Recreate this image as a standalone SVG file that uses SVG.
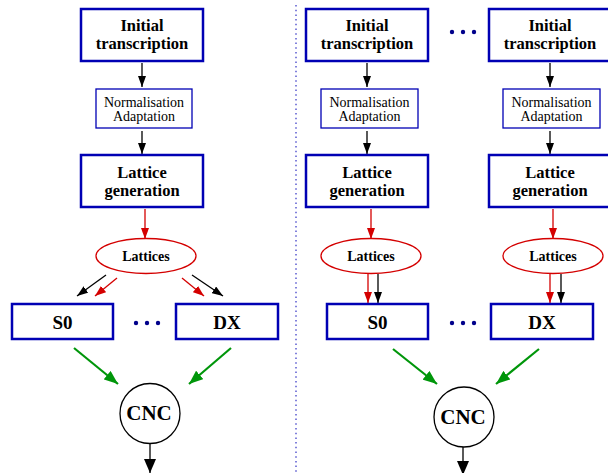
<svg xmlns="http://www.w3.org/2000/svg" width="608" height="473" viewBox="0 0 608 473">
<defs>
<style>
text{font-family:'Liberation Serif','Times New Roman','DejaVu Serif',serif;text-anchor:middle;fill:#000}
.box{fill:#fff;stroke:#0000b4;stroke-width:2.5}
.tbox{fill:#fff;stroke:#0000b4;stroke-width:1.3}
.ell{fill:#fff;stroke:#d40000;stroke-width:1.3}
.circ{fill:#fff;stroke:#000;stroke-width:1.3}
.bt{font-weight:bold;font-size:16.5px}
.nt{font-size:14px}
.lt{font-weight:bold;font-size:14px}
.st{font-weight:bold;font-size:19px}
.ct{font-weight:bold;font-size:21px}
.k{stroke:#000;stroke-width:1.3;fill:none;marker-end:url(#ak)}
.r{stroke:#d40000;stroke-width:1.3;fill:none;marker-end:url(#ar)}
.g{stroke:#00960a;stroke-width:2.2;fill:none;marker-end:url(#ag)}
.kb{stroke:#000;stroke-width:1.3;fill:none;marker-end:url(#akb)}
.dot{fill:#00008b}
</style>
<marker id="ak" markerUnits="userSpaceOnUse" markerWidth="11" markerHeight="8" refX="11" refY="4" orient="auto"><path d="M0,0 L11,4 L0,8 z" fill="#000"/></marker>
<marker id="ar" markerUnits="userSpaceOnUse" markerWidth="11" markerHeight="8" refX="11" refY="4" orient="auto"><path d="M0,0 L11,4 L0,8 z" fill="#d40000"/></marker>
<marker id="ag" markerUnits="userSpaceOnUse" markerWidth="14" markerHeight="11" refX="14" refY="5.5" orient="auto"><path d="M0,0 L14,5.5 L0,11 z" fill="#00960a"/></marker>
<marker id="akb" markerUnits="userSpaceOnUse" markerWidth="14" markerHeight="12" refX="14" refY="6" orient="auto"><path d="M0,0 L14,6 L0,12 z" fill="#000"/></marker>
</defs>
<rect width="608" height="473" fill="#fff"/>

<line x1="296" y1="5" x2="296" y2="473" stroke="#5a5ad0" stroke-width="1.5" stroke-dasharray="1.5 3.2"/>

<g id="connectors">
<line class="k" x1="142" y1="63" x2="142" y2="87"/>
<line class="k" x1="142" y1="131" x2="142" y2="154"/>
<line class="r" x1="145" y1="209" x2="145" y2="239"/>
<line class="k" x1="106" y1="275" x2="77" y2="296"/>
<line class="r" x1="117" y1="278" x2="95" y2="296"/>
<line class="r" x1="182" y1="278" x2="204" y2="296"/>
<line class="k" x1="192" y1="275" x2="223" y2="296"/>
<line class="g" x1="74" y1="348" x2="118" y2="384"/>
<line class="g" x1="231" y1="348" x2="189" y2="384"/>
<line class="kb" x1="150" y1="444" x2="150" y2="473"/>

<line class="k" x1="367" y1="63" x2="367" y2="87"/>
<line class="k" x1="367" y1="131" x2="367" y2="154"/>
<line class="r" x1="371" y1="209" x2="371" y2="239"/>
<line class="r" x1="368" y1="274" x2="368" y2="303"/>
<line class="k" x1="378" y1="274" x2="378" y2="303"/>
<line class="k" x1="550" y1="63" x2="550" y2="87"/>
<line class="k" x1="550" y1="131" x2="550" y2="154"/>
<line class="r" x1="553" y1="209" x2="553" y2="239"/>
<line class="r" x1="550" y1="274" x2="550" y2="303"/>
<line class="k" x1="561" y1="274" x2="561" y2="303"/>
<line class="g" x1="393" y1="349" x2="437" y2="384"/>
<line class="g" x1="539" y1="349" x2="496" y2="384"/>
<line class="kb" x1="463" y1="447" x2="463" y2="475"/>
</g>

<g id="L-init"><rect class="box" x="81" y="9" width="122" height="52"/><text class="bt" x="142" y="31">Initial</text><text class="bt" x="142" y="48.5">transcription</text></g>
<g id="L-norm"><rect class="tbox" x="96" y="89" width="96" height="39"/><text class="nt" x="144" y="107">Normalisation</text><text class="nt" x="144" y="121">Adaptation</text></g>
<g id="L-latgen"><rect class="box" x="81" y="155" width="122" height="52"/><text class="bt" x="142" y="178">Lattice</text><text class="bt" x="142" y="196">generation</text></g>
<g id="L-lattices"><ellipse class="ell" cx="146" cy="256" rx="50" ry="17.5"/><text class="lt" x="146" y="260.5">Lattices</text></g>
<g id="L-S0"><rect class="box" x="12" y="304" width="101" height="35"/><text class="st" x="62.5" y="329">S0</text></g>
<g id="L-dots"><circle class="dot" cx="136" cy="323" r="2.2"/><circle class="dot" cx="147" cy="323" r="2.2"/><circle class="dot" cx="158" cy="323" r="2.2"/></g>
<g id="L-DX"><rect class="box" x="176" y="304" width="102" height="35"/><text class="st" x="227" y="329">DX</text></g>
<g id="L-CNC"><circle class="circ" cx="150" cy="413.5" r="30"/><text class="ct" x="149" y="420">CNC</text></g>

<g id="R1-init"><rect class="box" x="306" y="9" width="122" height="52"/><text class="bt" x="367" y="31">Initial</text><text class="bt" x="367" y="48.5">transcription</text></g>
<g id="R-dots-top"><circle class="dot" cx="452" cy="32" r="2.2"/><circle class="dot" cx="463" cy="32" r="2.2"/><circle class="dot" cx="474" cy="32" r="2.2"/></g>
<g id="R2-init"><rect class="box" x="489" y="9" width="122" height="52"/><text class="bt" x="550" y="31">Initial</text><text class="bt" x="550" y="48.5">transcription</text></g>
<g id="R1-norm"><rect class="tbox" x="321" y="89" width="97" height="39"/><text class="nt" x="369.5" y="107">Normalisation</text><text class="nt" x="369.5" y="121">Adaptation</text></g>
<g id="R2-norm"><rect class="tbox" x="503" y="89" width="97" height="39"/><text class="nt" x="551.5" y="107">Normalisation</text><text class="nt" x="551.5" y="121">Adaptation</text></g>
<g id="R1-latgen"><rect class="box" x="306" y="155" width="122" height="52"/><text class="bt" x="367" y="178">Lattice</text><text class="bt" x="367" y="196">generation</text></g>
<g id="R2-latgen"><rect class="box" x="489" y="155" width="122" height="52"/><text class="bt" x="550" y="178">Lattice</text><text class="bt" x="550" y="196">generation</text></g>
<g id="R1-lattices"><ellipse class="ell" cx="371" cy="256" rx="50" ry="17.5"/><text class="lt" x="371" y="260.5">Lattices</text></g>
<g id="R2-lattices"><ellipse class="ell" cx="553" cy="256" rx="50" ry="17.5"/><text class="lt" x="553" y="260.5">Lattices</text></g>
<g id="R-S0"><rect class="box" x="327" y="304" width="101" height="35"/><text class="st" x="377.5" y="329">S0</text></g>
<g id="R-dots"><circle class="dot" cx="452" cy="323" r="2.2"/><circle class="dot" cx="463" cy="323" r="2.2"/><circle class="dot" cx="474" cy="323" r="2.2"/></g>
<g id="R-DX"><rect class="box" x="491" y="304" width="102" height="35"/><text class="st" x="542" y="329">DX</text></g>
<g id="R-CNC"><circle class="circ" cx="464" cy="417" r="30"/><text class="ct" x="463" y="423.5">CNC</text></g>
</svg>
